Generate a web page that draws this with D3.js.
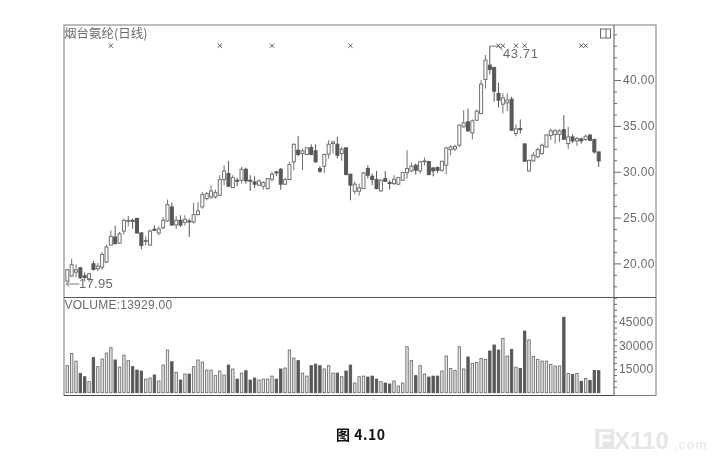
<!DOCTYPE html>
<html><head><meta charset="utf-8">
<script src="https://cdn.jsdelivr.net/npm/d3@7/dist/d3.min.js"></script>
<style>
html,body{margin:0;padding:0;background:#fff;}
svg{display:block;}
text{font-family:"Liberation Sans",Arial,sans-serif;}
</style></head><body><div id="chart"></div>
<script>
const opens=[18.07,18.62,19.05,19.53,18.65,18.32,19.96,19.42,19.6,20.15,22.0,22.88,22.22,23.53,24.59,24.7,24.92,23.32,22.4,22.0,23.72,23.32,23.9,24.63,26.16,24.19,24.7,24.48,24.63,24.52,25.32,26.16,27.07,27.25,27.25,27.43,29.14,29.8,28.27,29.07,29.07,30.27,29.07,28.89,28.53,28.42,28.16,29.18,29.98,30.27,28.64,29.15,31.08,32.35,31.99,31.88,32.64,32.28,30.35,30.6,31.91,33.08,33.0,31.99,32.61,29.73,27.87,27.87,28.16,30.35,29.51,29.15,27.91,29.25,28.82,28.71,28.64,29.07,29.91,30.09,30.71,30.09,31.11,31.11,30.41,30.45,30.16,30.71,32.42,32.49,32.89,34.9,35.44,34.24,35.62,36.35,40.07,41.63,41.38,38.54,37.37,37.52,37.92,34.17,34.71,33.04,30.09,31.18,31.62,31.98,32.71,33.95,34.06,34.06,34.6,33.07,33.8,33.37,33.58,33.51,33.98,33.51,32.16];
const closes=[19.31,19.85,19.31,18.43,18.47,18.87,19.34,19.71,20.98,21.79,22.95,22.15,23.24,24.7,24.7,24.59,23.32,21.97,22.51,23.53,23.61,23.75,24.7,26.41,24.19,24.7,24.19,24.81,24.55,25.32,25.72,27.5,27.61,27.9,27.72,29.14,30.09,28.42,29.36,29.0,30.27,29.0,29.0,28.64,29.0,28.82,29.25,29.73,29.87,28.64,29.15,30.78,33.0,31.88,32.28,32.61,31.88,31.08,30.06,31.88,33.0,33.26,31.8,32.46,29.69,28.53,28.64,28.23,29.87,29.62,29.15,28.16,29.07,28.96,28.71,29.18,29.36,29.91,30.35,30.6,30.17,31.08,31.19,29.69,30.09,30.16,31.14,32.6,32.71,32.75,35.08,35.33,34.46,35.55,36.61,39.56,42.18,41.16,38.79,37.81,38.06,37.81,34.53,34.68,34.6,31.14,31.25,31.8,32.42,32.89,34.02,34.46,34.49,34.46,33.55,33.8,33.37,33.62,33.37,33.88,33.44,32.16,31.18];
const highs=[19.42,20.51,19.89,19.6,19.02,18.98,20.26,20.04,21.24,22.04,23.6,24.12,23.42,24.88,25.17,24.88,24.95,23.42,22.95,23.68,24.15,24.04,25.06,26.96,26.63,25.17,25.25,25.25,24.88,26.63,26.7,27.8,27.8,28.52,28.05,29.62,30.71,31.18,29.62,29.36,30.53,30.46,29.62,29.51,29.15,28.96,29.33,29.98,30.09,30.42,29.33,31.08,33.08,33.88,32.53,32.64,33.0,33.0,30.64,31.99,33.44,33.33,33.81,32.72,32.64,29.8,28.96,28.71,29.98,30.71,29.8,30.09,29.15,30.09,29.07,29.62,29.44,29.98,32.35,31.0,30.89,31.19,31.55,31.19,30.52,30.6,31.18,32.71,32.89,32.96,35.15,36.72,36.9,35.7,36.79,39.99,42.73,43.71,41.45,39.7,38.54,38.54,38.17,35.15,35.7,33.07,31.3,32.16,32.64,33.07,34.09,34.68,34.64,34.64,36.17,34.9,34.09,33.8,33.73,34.06,34.17,33.62,32.2];
const lows=[17.95,18.51,18.51,18.32,18.07,17.96,19.23,19.16,19.31,20.04,21.97,22.08,22.15,23.17,24.04,23.79,23.24,21.53,21.97,21.97,23.53,23.06,23.75,24.55,24.12,23.75,23.97,24.12,22.88,24.34,25.25,25.97,26.89,27.03,27.07,27.36,28.52,28.34,28.23,28.42,28.71,28.71,27.91,28.23,28.45,28.05,28.09,28.96,29.51,28.05,28.56,29.07,30.17,31.7,30.17,31.8,31.8,30.97,29.87,29.87,31.44,31.99,31.44,31.19,29.62,26.89,27.54,27.4,28.13,29.25,28.53,28.09,27.83,28.89,28.09,28.53,28.56,29.0,29.25,29.98,29.69,29.8,30.71,29.62,29.5,29.87,30.01,29.72,31.8,32.27,32.71,34.82,34.35,33.55,35.55,36.28,39.08,40.61,37.63,37.01,36.35,36.61,34.46,33.87,34.17,31.11,30.01,31.11,31.51,31.87,32.64,33.44,33.07,33.26,33.44,32.49,33.15,32.82,33.07,33.37,33.33,31.98,30.52];
const volumes=[17100,24900,20000,12200,10100,7000,22200,16500,21300,25100,28500,20700,16200,23800,20300,16500,14300,13700,8600,9300,11200,7400,17500,27000,19600,12900,8000,11800,11800,16500,20700,19400,14300,14300,10800,13700,11200,17500,15000,8600,12400,13900,8000,9300,8000,8600,8600,10500,8600,15000,15600,27000,21900,20300,12400,10500,17100,18100,17100,15000,17100,12400,12400,10100,13700,17500,6100,10100,10500,9900,10500,8600,7000,6100,5500,7400,4200,6100,29100,20300,10800,17100,11800,9900,10500,10500,13700,23200,15400,14100,29100,15000,22600,18600,19200,21700,21100,26400,30200,27000,34400,23200,27400,16200,15400,39000,33500,23000,21100,20000,20000,17900,16900,16900,47700,12200,11600,12200,7200,9100,7800,14100,13929];
const priceTicks=[20,25,30,35,40];
const priceMinorTicks=[16.25,17.5,18.75,21.25,22.5,23.75,26.25,27.5,28.75,31.25,32.5,33.75,36.25,37.5,38.75,41.25,42.5,43.75,45];
const volumeTicks=[15000,30000,45000];
const volumeMinorTicks=[3750,7500,11250,18750,22500,26250,33750,37500,41250,48750,52500,56250];
const signalBars=[11,36,48,66,100,101,104,106,119,120];
const signalLevel=43.75;
const stockTitle="烟台氨纶(日线)";
const volumeLabel="VOLUME:13929.00";
const peakLabel="43.71", troughLabel="17.95", caption="图 4.10";

const W=718,H=462,L=64,M=614,R=656,T=25,S=297.5,B=395.5;
const ink="#6a6a6a",dark="#585858",hollow="#707070";
const svg=d3.select("#chart").append("svg").attr("width",W).attr("height",H).style("filter","blur(0.45px)");
const idx=d3.range(1,opens.length+1);
const x=d3.scalePoint().domain(idx).range([67.3,598.7]);
const y=d3.scaleLinear().domain([46.01,16.28]).range([T,S]);
const yv=d3.scaleLinear().domain([0,60600]).range([392.7,297]);

// frames
const frame=svg.append("g").attr("fill","none").attr("stroke",ink).attr("stroke-width",1);
frame.append("rect").attr("x",L).attr("y",T).attr("width",R-L).attr("height",B-T).attr("stroke","#7a7a7a");
frame.append("line").attr("x1",L).attr("x2",R).attr("y1",S).attr("y2",S).attr("stroke","#555");
frame.append("line").attr("x1",M).attr("x2",M).attr("y1",T).attr("y2",B).attr("stroke","#555");
frame.append("line").attr("x1",L).attr("x2",M).attr("y1",B).attr("y2",B).attr("stroke","#444");

// axes
function axisOn(scale,major,minor,fmt,size,fontSize,spacing,pad){
  const g=svg.append("g").attr("transform",`translate(${M},0)`);
  g.call(d3.axisRight(scale).tickValues(major).tickFormat(fmt).tickSize(size).tickPadding(pad));
  g.append("g").call(d3.axisRight(scale).tickValues(minor).tickFormat("").tickSize(3));
  g.selectAll(".domain").remove();
  g.selectAll("line").attr("stroke",ink);
  g.selectAll("text").attr("fill",ink).style("font-size",fontSize+"px").style("letter-spacing",spacing+"px").style("font-family",'"Liberation Sans",Arial,sans-serif');
}
axisOn(y,priceTicks,priceMinorTicks,d3.format(".2f"),7,12,0.35,2);
axisOn(yv,volumeTicks,volumeMinorTicks,d3.format("d"),3,12,0.2,2);

// candles
const isDown=i=>closes[i-1]<opens[i-1];
const candles=svg.append("g").selectAll("g").data(idx).join("g");
candles.append("line").attr("x1",d=>x(d)).attr("x2",d=>x(d))
  .attr("y1",d=>y(highs[d-1])).attr("y2",d=>y(lows[d-1]))
  .attr("stroke",d=>isDown(d)?dark:hollow).attr("stroke-width",1);
candles.append("rect").attr("x",d=>x(d)-1.5).attr("width",3)
  .attr("y",d=>y(Math.max(opens[d-1],closes[d-1])))
  .attr("height",d=>Math.max(1,Math.abs(y(opens[d-1])-y(closes[d-1]))))
  .attr("fill",d=>isDown(d)?dark:"#fff").attr("stroke",d=>isDown(d)?dark:hollow).attr("stroke-width",1);

// volume
svg.append("g").selectAll("rect").data(idx).join("rect")
  .attr("x",d=>x(d)-1.2).attr("width",2.4)
  .attr("y",d=>yv(volumes[d-1])).attr("height",d=>yv(0)-yv(volumes[d-1]))
  .attr("fill",d=>isDown(d)?dark:"#e8e8e8").attr("stroke",d=>isDown(d)?dark:hollow).attr("stroke-width",0.9);

// signal marks
svg.append("g").selectAll("path").data(signalBars).join("path")
  .attr("d",d3.symbol().type(d3.symbolX).size(13))
  .attr("transform",d=>`translate(${x(d)},${y(signalLevel)})`)
  .attr("fill","none").attr("stroke","#444").attr("stroke-width",0.9);

// labels
svg.append("text").attr("x",64).attr("y",38).attr("fill",ink).style("font-family",'"Noto Sans CJK SC"').style("font-size","12.5px").text(stockTitle);
svg.append("text").attr("x",64.5).attr("y",309).attr("fill",ink).style("font-size","12px").style("letter-spacing","0.25px").text(volumeLabel);
svg.append("text").attr("x",503).attr("y",58).attr("fill",ink).style("font-size","13px").style("letter-spacing","0.6px").text(peakLabel);
svg.append("text").attr("x",79).attr("y",288).attr("fill",ink).style("font-size","13px").style("letter-spacing","0.3px").text(troughLabel);

// peak leader and trough arrow
const peakBar=98, troughBar=1;
const leader=d3.line();
svg.append("path").attr("fill","none").attr("stroke",ink).attr("stroke-width",0.9)
  .attr("d",leader([[x(peakBar),y(highs[peakBar-1])],[x(peakBar)+8,y(highs[peakBar-1])],[x(peakBar)+13,y(highs[peakBar-1])+4]]));
svg.append("path").attr("fill","none").attr("stroke",ink).attr("stroke-width",0.9)
  .attr("d",leader([[x(troughBar)+12,284],[x(troughBar)-1,284]]));
svg.append("path").attr("fill","none").attr("stroke",ink).attr("stroke-width",0.9)
  .attr("d",leader([[x(troughBar)+2,281.5],[x(troughBar)-1,284],[x(troughBar)+2,286.5]]));

// window icon
svg.append("rect").attr("x",600.5).attr("y",29).attr("width",10).attr("height",9).attr("fill","#fff").attr("stroke","#666");
svg.append("line").attr("x1",606).attr("x2",606).attr("y1",29).attr("y2",38).attr("stroke","#666");

// caption
svg.append("text").attr("x",336).attr("y",440).attr("fill","#111").style("font-family",'"Noto Sans CJK SC"').style("font-weight","700").style("font-size","14px").style("letter-spacing","0.5px").text(caption);

// watermark
svg.append("rect").attr("x",595).attr("y",429).attr("width",19).attr("height",20).attr("fill","#e6e6e6");
svg.append("text").attr("x",598).attr("y",447).attr("fill","#fff").style("font-weight","700").style("font-size","22px").text("F");
svg.append("text").attr("x",614).attr("y",449).attr("fill","#e6e6e6").style("font-weight","700").style("font-size","24px").text("X110");
svg.append("text").attr("x",674).attr("y",449).attr("fill","#ececec").style("font-weight","700").style("font-size","13px").style("letter-spacing","0.8px").text(".com");
</script></body></html>
